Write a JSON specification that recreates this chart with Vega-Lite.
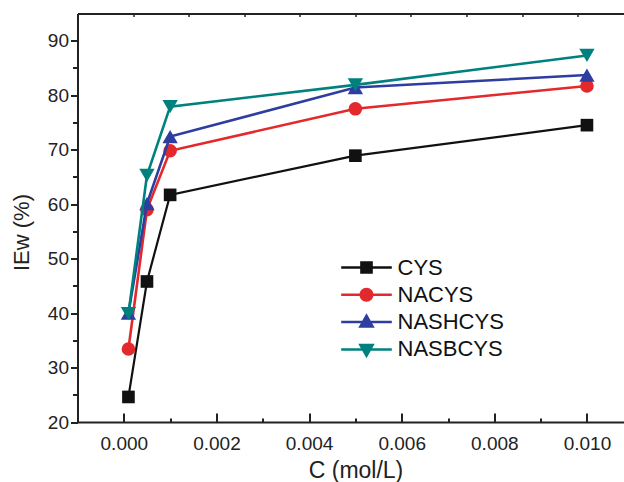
{
  "$schema": "https://vega.github.io/schema/vega-lite/v6.json",
  "width": 546.5,
  "height": 408.5,
  "autosize": {"type": "none"},
  "padding": {"left": 77.5, "top": 13.5, "right": 0, "bottom": 60},
  "background": "white",
  "config": {
    "view": {"stroke": null},
    "font": "Liberation Sans",
    "axis": {"grid": false, "domainColor": "#222", "tickColor": "#222", "labelColor": "#222", "titleColor": "#222", "titleFontWeight": "normal", "labelFont": "Liberation Sans", "titleFont": "Liberation Sans"}
  },
  "data": {
    "values": [
      {"series": "CYS", "c": 0.0001, "ie": 24.6},
      {"series": "CYS", "c": 0.0005, "ie": 45.8},
      {"series": "CYS", "c": 0.001, "ie": 61.7},
      {"series": "CYS", "c": 0.005, "ie": 68.9},
      {"series": "CYS", "c": 0.01, "ie": 74.5},
      {"series": "NACYS", "c": 0.0001, "ie": 33.4},
      {"series": "NACYS", "c": 0.0005, "ie": 59.0},
      {"series": "NACYS", "c": 0.001, "ie": 69.8},
      {"series": "NACYS", "c": 0.005, "ie": 77.5},
      {"series": "NACYS", "c": 0.01, "ie": 81.7},
      {"series": "NASHCYS", "c": 0.0001, "ie": 40.0},
      {"series": "NASHCYS", "c": 0.0005, "ie": 60.1},
      {"series": "NASHCYS", "c": 0.001, "ie": 72.4},
      {"series": "NASHCYS", "c": 0.005, "ie": 81.4},
      {"series": "NASHCYS", "c": 0.01, "ie": 83.7},
      {"series": "NASBCYS", "c": 0.0001, "ie": 39.9},
      {"series": "NASBCYS", "c": 0.0005, "ie": 65.3},
      {"series": "NASBCYS", "c": 0.001, "ie": 77.9},
      {"series": "NASBCYS", "c": 0.005, "ie": 81.9},
      {"series": "NASBCYS", "c": 0.01, "ie": 87.3}
    ]
  },
  "layer": [
    {
      "transform": [{"filter": "datum.series === 'CYS'"}],
      "mark": {"type": "line", "strokeWidth": 2.2, "color": "#111111"},
      "encoding": {
        "x": {
          "field": "c", "type": "quantitative",
          "scale": {"domain": [-0.001, 0.0108], "nice": false, "zero": false},
          "axis": {
            "orient": "bottom",
            "values": [0, 0.001, 0.002, 0.003, 0.004, 0.005, 0.006, 0.007, 0.008, 0.009, 0.01],
            "labelExpr": "round(datum.value*1000) % 2 === 0 ? format(datum.value, '.3f') : ''",
            "tickSize": {"condition": {"test": "round(datum.value*1000) % 2 !== 0", "value": -4}, "value": -9},
            "tickWidth": 2, "domainWidth": 2,
            "labelFontSize": 19, "labelPadding": 21, "labelFlush": false, "labelOverlap": false,
            "title": "C (mol/L)", "titleFontSize": 23, "titleX": 278, "titleY": 48, "titleBaseline": "middle"
          }
        },
        "y": {
          "field": "ie", "type": "quantitative",
          "scale": {"domain": [20, 95], "nice": false, "zero": false},
          "axis": {
            "orient": "left",
            "values": [20, 25, 30, 35, 40, 45, 50, 55, 60, 65, 70, 75, 80, 85, 90],
            "labelExpr": "datum.value % 10 === 0 ? datum.label : ''",
            "tickSize": {"condition": {"test": "datum.value % 10 !== 0", "value": 5}, "value": 7},
            "tickWidth": 2, "domainWidth": 2,
            "labelFontSize": 19, "labelPadding": 2, "labelOverlap": false,
            "title": "IEw (%)", "titleFontSize": 22, "titleX": -56, "titleY": 218.5, "titleAngle": -90, "titleBaseline": "middle"
          }
        }
      }
    },
    {
      "transform": [{"filter": "datum.series === 'CYS'"}],
      "mark": {"type": "point", "shape": "square", "filled": true, "color": "#111111", "size": 160, "opacity": 1},
      "encoding": {
        "x": {"field": "c", "type": "quantitative", "scale": {"domain": [-0.001, 0.0108], "nice": false, "zero": false}, "axis": null},
        "y": {
          "field": "ie", "type": "quantitative",
          "scale": {"domain": [20, 95], "nice": false, "zero": false},
          "axis": {
            "orient": "left",
            "values": [20, 25, 30, 35, 40, 45, 50, 55, 60, 65, 70, 75, 80, 85, 90],
            "labelExpr": "datum.value % 10 === 0 ? datum.label : ''",
            "tickSize": {"condition": {"test": "datum.value % 10 !== 0", "value": 5}, "value": 7},
            "tickWidth": 2, "domainWidth": 2,
            "labelFontSize": 19, "labelPadding": 2, "labelOverlap": false,
            "title": "IEw (%)", "titleFontSize": 22, "titleX": -56, "titleY": 218.5, "titleAngle": -90, "titleBaseline": "middle"
          }
        }
      }
    },
    {
      "transform": [{"filter": "datum.series === 'NACYS'"}],
      "mark": {"type": "line", "strokeWidth": 2.6, "color": "#e3292b"},
      "encoding": {
        "x": {"field": "c", "type": "quantitative", "scale": {"domain": [-0.001, 0.0108], "nice": false, "zero": false}, "axis": null},
        "y": {
          "field": "ie", "type": "quantitative",
          "scale": {"domain": [20, 95], "nice": false, "zero": false},
          "axis": {
            "orient": "left",
            "values": [20, 25, 30, 35, 40, 45, 50, 55, 60, 65, 70, 75, 80, 85, 90],
            "labelExpr": "datum.value % 10 === 0 ? datum.label : ''",
            "tickSize": {"condition": {"test": "datum.value % 10 !== 0", "value": 5}, "value": 7},
            "tickWidth": 2, "domainWidth": 2,
            "labelFontSize": 19, "labelPadding": 2, "labelOverlap": false,
            "title": "IEw (%)", "titleFontSize": 22, "titleX": -56, "titleY": 218.5, "titleAngle": -90, "titleBaseline": "middle"
          }
        }
      }
    },
    {
      "transform": [{"filter": "datum.series === 'NACYS'"}],
      "mark": {"type": "point", "shape": "circle", "filled": true, "color": "#e3292b", "size": 185, "opacity": 1},
      "encoding": {
        "x": {"field": "c", "type": "quantitative", "scale": {"domain": [-0.001, 0.0108], "nice": false, "zero": false}, "axis": null},
        "y": {
          "field": "ie", "type": "quantitative",
          "scale": {"domain": [20, 95], "nice": false, "zero": false},
          "axis": {
            "orient": "left",
            "values": [20, 25, 30, 35, 40, 45, 50, 55, 60, 65, 70, 75, 80, 85, 90],
            "labelExpr": "datum.value % 10 === 0 ? datum.label : ''",
            "tickSize": {"condition": {"test": "datum.value % 10 !== 0", "value": 5}, "value": 7},
            "tickWidth": 2, "domainWidth": 2,
            "labelFontSize": 19, "labelPadding": 2, "labelOverlap": false,
            "title": "IEw (%)", "titleFontSize": 22, "titleX": -56, "titleY": 218.5, "titleAngle": -90, "titleBaseline": "middle"
          }
        }
      }
    },
    {
      "transform": [{"filter": "datum.series === 'NASHCYS'"}],
      "mark": {"type": "line", "strokeWidth": 2.6, "color": "#2e3da0"},
      "encoding": {
        "x": {"field": "c", "type": "quantitative", "scale": {"domain": [-0.001, 0.0108], "nice": false, "zero": false}, "axis": null},
        "y": {
          "field": "ie", "type": "quantitative",
          "scale": {"domain": [20, 95], "nice": false, "zero": false},
          "axis": {
            "orient": "left",
            "values": [20, 25, 30, 35, 40, 45, 50, 55, 60, 65, 70, 75, 80, 85, 90],
            "labelExpr": "datum.value % 10 === 0 ? datum.label : ''",
            "tickSize": {"condition": {"test": "datum.value % 10 !== 0", "value": 5}, "value": 7},
            "tickWidth": 2, "domainWidth": 2,
            "labelFontSize": 19, "labelPadding": 2, "labelOverlap": false,
            "title": "IEw (%)", "titleFontSize": 22, "titleX": -56, "titleY": 218.5, "titleAngle": -90, "titleBaseline": "middle"
          }
        }
      }
    },
    {
      "transform": [{"filter": "datum.series === 'NASHCYS'"}],
      "mark": {"type": "point", "shape": "triangle-up", "filled": true, "color": "#2e3da0", "size": 235, "opacity": 1},
      "encoding": {
        "x": {"field": "c", "type": "quantitative", "scale": {"domain": [-0.001, 0.0108], "nice": false, "zero": false}, "axis": null},
        "y": {
          "field": "ie", "type": "quantitative",
          "scale": {"domain": [20, 95], "nice": false, "zero": false},
          "axis": {
            "orient": "left",
            "values": [20, 25, 30, 35, 40, 45, 50, 55, 60, 65, 70, 75, 80, 85, 90],
            "labelExpr": "datum.value % 10 === 0 ? datum.label : ''",
            "tickSize": {"condition": {"test": "datum.value % 10 !== 0", "value": 5}, "value": 7},
            "tickWidth": 2, "domainWidth": 2,
            "labelFontSize": 19, "labelPadding": 2, "labelOverlap": false,
            "title": "IEw (%)", "titleFontSize": 22, "titleX": -56, "titleY": 218.5, "titleAngle": -90, "titleBaseline": "middle"
          }
        }
      }
    },
    {
      "transform": [{"filter": "datum.series === 'NASBCYS'"}],
      "mark": {"type": "line", "strokeWidth": 2.6, "color": "#00817e"},
      "encoding": {
        "x": {"field": "c", "type": "quantitative", "scale": {"domain": [-0.001, 0.0108], "nice": false, "zero": false}, "axis": null},
        "y": {
          "field": "ie", "type": "quantitative",
          "scale": {"domain": [20, 95], "nice": false, "zero": false},
          "axis": {
            "orient": "left",
            "values": [20, 25, 30, 35, 40, 45, 50, 55, 60, 65, 70, 75, 80, 85, 90],
            "labelExpr": "datum.value % 10 === 0 ? datum.label : ''",
            "tickSize": {"condition": {"test": "datum.value % 10 !== 0", "value": 5}, "value": 7},
            "tickWidth": 2, "domainWidth": 2,
            "labelFontSize": 19, "labelPadding": 2, "labelOverlap": false,
            "title": "IEw (%)", "titleFontSize": 22, "titleX": -56, "titleY": 218.5, "titleAngle": -90, "titleBaseline": "middle"
          }
        }
      }
    },
    {
      "transform": [{"filter": "datum.series === 'NASBCYS'"}],
      "mark": {"type": "point", "shape": "triangle-down", "filled": true, "color": "#00817e", "size": 235, "opacity": 1},
      "encoding": {
        "x": {"field": "c", "type": "quantitative", "scale": {"domain": [-0.001, 0.0108], "nice": false, "zero": false}, "axis": null},
        "y": {
          "field": "ie", "type": "quantitative",
          "scale": {"domain": [20, 95], "nice": false, "zero": false},
          "axis": {
            "orient": "left",
            "values": [20, 25, 30, 35, 40, 45, 50, 55, 60, 65, 70, 75, 80, 85, 90],
            "labelExpr": "datum.value % 10 === 0 ? datum.label : ''",
            "tickSize": {"condition": {"test": "datum.value % 10 !== 0", "value": 5}, "value": 7},
            "tickWidth": 2, "domainWidth": 2,
            "labelFontSize": 19, "labelPadding": 2, "labelOverlap": false,
            "title": "IEw (%)", "titleFontSize": 22, "titleX": -56, "titleY": 218.5, "titleAngle": -90, "titleBaseline": "middle"
          }
        }
      }
    },
    {
      "mark": {"type": "point", "filled": true, "opacity": 0},
      "encoding": {
        "x": {
          "field": "c", "type": "quantitative",
          "scale": {"domain": [-0.001, 0.0108], "nice": false, "zero": false},
          "axis": {
            "orient": "top",
            "values": [-0.001, 0.0002, 0.0014, 0.0026, 0.0038, 0.005, 0.0062, 0.0074, 0.0086, 0.0098],
            "labels": false, "tickSize": -3, "tickWidth": 1.5, "domainWidth": 2, "title": null
          }
        },
        "y": {
          "field": "ie", "type": "quantitative",
          "scale": {"domain": [20, 95], "nice": false, "zero": false},
          "axis": {
            "orient": "left",
            "values": [20, 25, 30, 35, 40, 45, 50, 55, 60, 65, 70, 75, 80, 85, 90],
            "labelExpr": "datum.value % 10 === 0 ? datum.label : ''",
            "tickSize": {"condition": {"test": "datum.value % 10 !== 0", "value": 5}, "value": 7},
            "tickWidth": 2, "domainWidth": 2,
            "labelFontSize": 19, "labelPadding": 2, "labelOverlap": false,
            "title": "IEw (%)", "titleFontSize": 22, "titleX": -56, "titleY": 218.5, "titleAngle": -90, "titleBaseline": "middle"
          }
        },
        "color": {
          "field": "series", "type": "nominal",
          "scale": {"domain": ["CYS", "NACYS", "NASHCYS", "NASBCYS"], "range": ["#111111", "#e3292b", "#2e3da0", "#00817e"]},
          "legend": {"orient": "none", "legendX": 278, "legendY": 243, "title": null, "symbolSize": 160, "symbolStrokeWidth": 0, "symbolOpacity": 1, "labelFontSize": 22, "labelOffset": 20, "rowPadding": 5.3, "padding": 0, "labelColor": "#111", "labelFont": "Liberation Sans"}
        },
        "shape": {
          "field": "series", "type": "nominal",
          "scale": {
            "domain": ["CYS", "NACYS", "NASHCYS", "NASBCYS"],
            "range": [
              "M-4,-0.2H4V0.2H-4Z M-1,-1H1V1H-1Z",
              "M-4,-0.2H4V0.2H-4Z M-1.1,0A1.1,1.1 0 1,1 1.1,0A1.1,1.1 0 1,1 -1.1,0Z",
              "M-4,-0.2H4V0.2H-4Z M0,-1.4L1.3,0.9L-1.3,0.9Z",
              "M-4,-0.2H4V0.2H-4Z M0,1.4L-1.3,-0.9L1.3,-0.9Z"
            ]
          },
          "legend": {"orient": "none", "legendX": 278, "legendY": 243, "title": null, "symbolSize": 160, "symbolStrokeWidth": 0, "symbolOpacity": 1, "labelFontSize": 22, "labelOffset": 20, "rowPadding": 5.3, "padding": 0, "labelColor": "#111", "labelFont": "Liberation Sans"}
        }
      }
    }
  ]
}
